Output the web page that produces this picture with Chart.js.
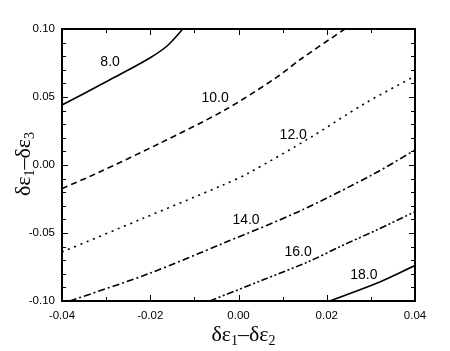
<!DOCTYPE html>
<html>
<head>
<meta charset="utf-8">
<script src="https://cdn.jsdelivr.net/npm/chart.js@4/dist/chart.umd.min.js"></script>
<style>
  html,body{margin:0;padding:0;background:#fff;}
</style>
</head>
<body>
<canvas id="chart" width="450" height="351"></canvas>
<script>
// contour levels and where their labels sit (data coords)
const levels = ['8.0', '10.0', '12.0', '14.0', '16.0', '18.0'];
const labelX = [-0.0291, -0.0053, 0.0124, 0.0017, 0.0135, 0.0284];
const labelY = [0.0757, 0.0493, 0.0221, -0.0404, -0.064, -0.0809];

// points: x = δε1-δε2, y = δε1-δε3
const c8x  = [-0.04, -0.0352, -0.0314, -0.0269, -0.0201, -0.0162, -0.0126];
const c8y  = [0.0441, 0.0522, 0.0588, 0.0665, 0.0787, 0.0875, 0.10];
const c10x = [-0.04, -0.0321, -0.0178, -0.0031, 0.0083, 0.0144, 0.0241];
const c10y = [-0.0173, -0.0061, 0.0160, 0.0404, 0.0637, 0.0785, 0.10];
const c12x = [-0.04, -0.0216, -0.0035, 0.0022, 0.0166, 0.0287, 0.04];
const c12y = [-0.064, -0.0392, -0.0147, -0.0061, 0.0208, 0.0454, 0.0654];
const c14x = [-0.0382, -0.0201, -0.0035, 0.0136, 0.0302, 0.04];
const c14y = [-0.10, -0.0796, -0.0576, -0.0343, -0.0074, 0.011];
const c16x = [-0.0065, 0.0049, 0.0162, 0.023, 0.0313, 0.04];
const c16y = [-0.10, -0.0853, -0.0706, -0.06, -0.0478, -0.0343];
const c18x = [0.0207, 0.0313, 0.04];
const c18y = [-0.10, -0.087, -0.0739];

// tick values
const xTicks = [-0.04, -0.02, 0.00, 0.02, 0.04];
const xMinor = [-0.03, -0.01, 0.01, 0.03];
const yTicks = [-0.10, -0.05, 0.00, 0.05, 0.10];
const yMinor = [-0.09, -0.08, -0.07, -0.06, -0.04, -0.03, -0.02, -0.01,
                0.01, 0.02, 0.03, 0.04, 0.06, 0.07, 0.08, 0.09];

const sans = '"Liberation Sans", Arial, sans-serif';
const serif = '"Liberation Serif", "Times New Roman", serif';

const curves = [
  {xs: c8x,  ys: c8y,  dash: []},
  {xs: c10x, ys: c10y, dash: [6, 4]},
  {xs: c12x, ys: c12y, dash: [2, 4.7]},
  {xs: c14x, ys: c14y, dash: [7, 3, 2, 3]},
  {xs: c16x, ys: c16y, dash: [7, 2.5, 2, 2.5, 2, 2.5]},
  {xs: c18x, ys: c18y, dash: []}
];

// draws "δε1–δεN" with small subscripts, centred on 0,0
function drawTitle(ctx, sub){
  const parts = [['δε', 22, 0], ['1', 14, 4], ['–', 22, 0], ['δε', 22, 0], [sub, 14, 4]];
  let w = 0;
  parts.forEach(p => { ctx.font = p[1] + 'px ' + serif; w += ctx.measureText(p[0]).width; });
  let cx = -w / 2;
  parts.forEach(p => {
    ctx.font = p[1] + 'px ' + serif;
    ctx.fillText(p[0], cx, p[2]);
    cx += ctx.measureText(p[0]).width;
  });
}

const decor = {
  id: 'decor',
  afterDatasetsDraw(chart){
    const {ctx, chartArea: a, scales: {x, y}} = chart;
    ctx.save();
    ctx.strokeStyle = '#000';
    ctx.lineWidth = 1;
    ctx.beginPath();
    // inward ticks on all four sides
    const xt = (v, len) => {
      const px = Math.round(x.getPixelForValue(v)) + 0.5;
      ctx.moveTo(px, a.bottom); ctx.lineTo(px, a.bottom - len);
      ctx.moveTo(px, a.top); ctx.lineTo(px, a.top + len);
    };
    const yt = (v, len) => {
      const py = Math.round(y.getPixelForValue(v)) + 0.5;
      ctx.moveTo(a.left, py); ctx.lineTo(a.left + len, py);
      ctx.moveTo(a.right, py); ctx.lineTo(a.right - len, py);
    };
    xTicks.forEach(v => xt(v, 6)); xMinor.forEach(v => xt(v, 4));
    yTicks.forEach(v => yt(v, 6)); yMinor.forEach(v => yt(v, 4));
    ctx.stroke();
    ctx.lineWidth = 2;
    ctx.strokeRect(a.left, a.top, a.right - a.left, a.bottom - a.top);

    // contour labels
    ctx.fillStyle = '#000';
    ctx.font = '14px ' + sans;
    ctx.textAlign = 'center';
    ctx.textBaseline = 'middle';
    levels.forEach((t, i) => ctx.fillText(t, x.getPixelForValue(labelX[i]), y.getPixelForValue(labelY[i])));

    // axis titles
    ctx.textAlign = 'left';
    ctx.textBaseline = 'alphabetic';
    ctx.save();
    ctx.translate((a.left + a.right) / 2 + 5, 341);
    drawTitle(ctx, '2');
    ctx.restore();
    ctx.save();
    ctx.translate(30, 164);
    ctx.rotate(-Math.PI / 2);
    drawTitle(ctx, '3');
    ctx.restore();
    ctx.restore();
  }
};

const tickFont = {family: sans, size: 11.5};

new Chart(document.getElementById('chart').getContext('2d'), {
  type: 'scatter',
  data: {
    datasets: curves.map((c, i) => ({
      label: levels[i],
      data: c.xs.map((v, k) => ({x: v, y: c.ys[k]})),
      showLine: true,
      pointRadius: 0,
      borderColor: '#000',
      borderWidth: 1.6,
      borderDash: c.dash,
      tension: 0.3,
      fill: false
    }))
  },
  options: {
    responsive: false,
    animation: false,
    layout: {padding: {left: 0, right: 35, top: 29, bottom: 0}},
    scales: {
      x: {
        type: 'linear', min: -0.04, max: 0.04,
        afterBuildTicks: s => { s.ticks = xTicks.map(v => ({value: v})); },
        afterFit: s => { s.height = 50; },
        grid: {display: false, drawTicks: false},
        border: {display: false},
        ticks: {color: '#000', font: tickFont, padding: 8, maxRotation: 0, callback: v => v.toFixed(2)}
      },
      y: {
        type: 'linear', min: -0.10, max: 0.10,
        afterBuildTicks: s => { s.ticks = yTicks.map(v => ({value: v})); },
        afterFit: s => { s.width = 62; },
        grid: {display: false, drawTicks: false},
        border: {display: false},
        ticks: {color: '#000', font: tickFont, padding: 7, callback: v => v.toFixed(2)}
      }
    },
    plugins: {legend: {display: false}, tooltip: {enabled: false}}
  },
  plugins: [decor]
});
</script>
</body>
</html>
